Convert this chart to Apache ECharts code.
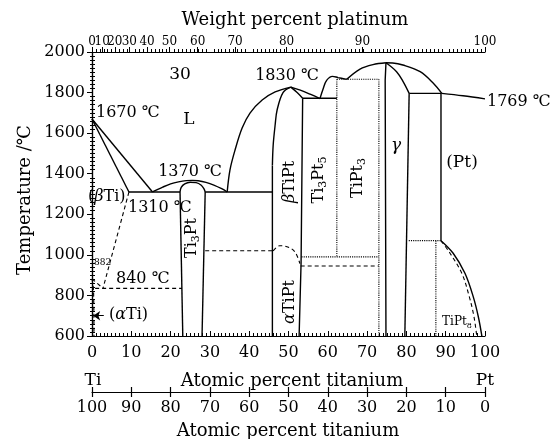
<!DOCTYPE html>
<html>
<head>
<meta charset="utf-8">
<script src="https://cdn.jsdelivr.net/npm/echarts@6/dist/echarts.min.js"></script>
<style>
  html, body { margin: 0; background: #fff; }
  #chart { width: 560px; height: 439px; }
</style>
</head>
<body>
<div id="chart"></div>
<script>
const FONT = '"DejaVu Serif", "Liberation Serif", serif'

// axes
const tempMin = 600
const tempMax = 2000
const tempStep = 200
const wtLabels = [0, 10, 20, 30, 40, 50, 60, 70, 80, 90, 100]
const wtPositions = [0, 2.6, 5.8, 9.5, 14.0, 19.7, 26.9, 36.4, 49.5, 68.8, 100]

// phase boundaries, [at.% (bottom axis), temperature °C]
const liquidusTi = [[0, 1670], [15.4, 1310]]
const solidusBetaTi = [[0, 1670], [9.4, 1310]]
const eutecticLeft = [[9.4, 1310], [22.4, 1310]]
const liquidusTi3Pt = [[15.4, 1310], [18, 1334], [20, 1350], [22, 1360], [24, 1366], [25.5, 1367], [27, 1365], [29, 1357], [31, 1344], [33, 1326], [34.4, 1310]]
const ti3PtCap = [[22.4, 1310], [22.7, 1333], [23.6, 1350], [25, 1358], [26.5, 1356], [27.8, 1343], [28.5, 1325], [28.8, 1310]]
const ti3PtLeft = [[22.4, 1310], [23.1, 600]]
const ti3PtRight = [[28.8, 1310], [28.0, 600]]
const eutecticRight = [[28.8, 1310], [45.9, 1310]]
const liquidusTiPtLeft = [[34.4, 1310], [35.1, 1418], [36.4, 1517], [38.2, 1625], [40.2, 1699], [43.3, 1763], [46.6, 1803], [50.6, 1827]]
const solidusTiPtLeft = [[50.6, 1827], [48.6, 1800], [47.1, 1714], [46.6, 1640], [46.1, 1540], [45.9, 1440]]
const tiPtLeftEdge = [[45.9, 1440], [45.9, 600]]
const liquidusTiPtRight = [[50.6, 1827], [53, 1812], [55.5, 1792], [58, 1770]]
const solidusTiPtRight = [[50.6, 1827], [52.2, 1800], [53.6, 1772]]
const tiPtRightEdge = [[53.6, 1772], [53.2, 960], [52.7, 600]]
const ti3Pt5Top = [[53.6, 1772], [62.3, 1772]]
const liquidusBump = [[58, 1770], [58.8, 1818], [59.7, 1860], [61.2, 1880], [62.6, 1874], [64.8, 1865]]
const liquidusGammaLeft = [[64.8, 1865], [68.2, 1916], [71.5, 1938], [74.8, 1947]]
const tiPt3Left = [[62.3, 1866], [62.3, 990]]
const tiPt3Top = [[62.3, 1866], [73.0, 1866]]
const tiPt3Right = [[73.0, 1866], [73.0, 600]]
const ordering990 = [[53.3, 990], [73.0, 990]]
const ordering945 = [[53.1, 945], [73.0, 945]]
const gammaLeft = [[74.8, 1947], [74.6, 1860], [74.8, 600]]
const liquidusGammaRight = [[74.8, 1947], [76.5, 1946], [79.1, 1936], [83.5, 1903], [86.8, 1847], [89.0, 1796]]
const liquidusPt = [[89.0, 1796], [94.4, 1784], [100, 1769]]
const solidusGammaRight = [[74.8, 1947], [77.5, 1903], [79.2, 1853], [80.7, 1796]]
const peritecticPt = [[80.7, 1796], [89.0, 1796]]
const gammaRight = [[80.7, 1796], [79.6, 600]]
const ptLeft = [[88.8, 1796], [88.8, 1070]]
const tiPt8Top = [[80.6, 1070], [88.8, 1070]]
const tiPt8Left = [[87.5, 1070], [87.5, 600]]
const tiPt8Outer = [[88.8, 1070], [91.9, 1008], [94.9, 909], [97.0, 794], [98.3, 695], [99.2, 600]]
const tiPt8Inner = [[88.8, 1070], [91.1, 1008], [94.1, 909], [96.0, 794], [97.2, 695], [97.9, 600]]
const tiPtMartLine = [[28.8, 1020], [46.1, 1020]]
const tiPtMartDome = [[46.1, 1020], [47.8, 1045], [50.0, 1038], [51.7, 1013], [52.9, 957]]
const betaSolvus = [[9.4, 1310], [2.8, 835]]
const eutectoid = [[0.8, 835], [22.9, 835]]
const alphaBeta = [[0, 882], [2.8, 835]]
const alphaSolvus = [[0, 882], [0.4, 820], [0.5, 600]]
const alphaArrow = [[3.0, 700], [0.3, 700]]

function boundary(data, kind, smooth) {
  return {
    type: 'line',
    data: data,
    symbol: 'none',
    smooth: smooth ? 0.35 : false,
    silent: true,
    clip: false,
    lineStyle: {
      color: '#000',
      width: kind === 'solid' ? 1.4 : 1.1,
      type: kind === 'dashed' ? [4, 3] : kind
    }
  }
}

const rich = {
  n: { fontSize: 16, fontFamily: FONT, fill: '#000' },
  i: { fontSize: 16, fontFamily: FONT, fontStyle: 'italic', fill: '#000' },
  s: { fontSize: 11, fontFamily: FONT, fill: '#000', padding: [9, 0, 0, 0] },
  ss: { fontSize: 8, fontFamily: FONT, fill: '#000', padding: [8, 0, 0, 0] },
  m: { fontSize: 12, fontFamily: FONT, fill: '#000' }
}

function label(x, y, text, size, opts) {
  opts = opts || {}
  return {
    type: 'text',
    x: x,
    y: y,
    rotation: opts.rotate ? Math.PI / 2 : 0,
    silent: true,
    style: {
      text: text,
      rich: rich,
      fill: '#000',
      font: (opts.italic ? 'italic ' : '') + size + 'px ' + FONT,
      align: opts.align || 'center',
      verticalAlign: 'middle'
    }
  }
}

const chart = echarts.init(document.getElementById('chart'))

const hidden = { show: false }
const plain = v => String(v)
const wtName = v => String(wtLabels[wtPositions.indexOf(v)])

// top weight-percent labels: the first one sits on its own axis so none get dropped for overlap
function wtAxis(values, withLine) {
  return {
    type: 'value', position: 'top', min: 0, max: 100,
    axisLine: withLine ? { lineStyle: { color: '#000', width: 1.2 } } : hidden,
    axisTick: { length: 5, customValues: values, lineStyle: { color: '#000' } },
    axisLabel: {
      fontSize: 12, color: '#000', margin: 4, fontFamily: FONT,
      showMinLabel: withLine ? false : true, showMaxLabel: true,
      customValues: values,
      formatter: wtName
    },
    splitLine: hidden
  }
}

chart.setOption({
  animation: false,
  textStyle: { fontFamily: FONT, color: '#000' },
  grid: { left: 92, right: 75, top: 52, bottom: 103 },
  xAxis: [
    {
      type: 'value', position: 'bottom', min: 0, max: 100, interval: 10,
      axisLine: { lineStyle: { color: '#000', width: 1.2 } },
      axisTick: { inside: true, length: 5, lineStyle: { color: '#000' } },
      minorTick: { show: true, splitNumber: 10, length: 3, lineStyle: { color: '#000' } },
      axisLabel: { fontSize: 16, color: '#000', margin: 9, fontFamily: FONT, formatter: plain },
      splitLine: hidden
    },
    wtAxis(wtPositions, true),
    wtAxis(wtPositions.slice(0, 1), false),
    {
      type: 'value', position: 'top', min: 0, max: 100, interval: 10,
      axisLine: hidden,
      axisTick: { show: false },
      minorTick: { show: true, splitNumber: 10, length: 3, lineStyle: { color: '#000' } },
      axisLabel: hidden,
      splitLine: hidden
    },
    {
      type: 'value', position: 'bottom', offset: 56, min: 0, max: 100, interval: 10, inverse: true,
      axisLine: { lineStyle: { color: '#000', width: 1.2 } },
      axisTick: { length: 5, lineStyle: { color: '#000', width: 1.2 } },
      axisLabel: { fontSize: 16, color: '#000', margin: 8, fontFamily: FONT, formatter: plain },
      splitLine: hidden
    },
    {
      type: 'value', position: 'bottom', offset: 56, min: 0, max: 100, interval: 10, inverse: true,
      axisLine: hidden,
      axisTick: { inside: true, length: 5, lineStyle: { color: '#000', width: 1.2 } },
      axisLabel: hidden,
      splitLine: hidden
    }
  ],
  yAxis: [
    {
      type: 'value', position: 'left', min: tempMin, max: tempMax, interval: tempStep,
      axisLine: { show: true, lineStyle: { color: '#000', width: 1.2 } },
      axisTick: { show: true, length: 4, lineStyle: { color: '#000' } },
      axisLabel: { fontSize: 16, color: '#000', margin: 7, fontFamily: FONT, formatter: plain },
      splitLine: hidden
    },
    {
      type: 'value', position: 'left', min: tempMin, max: tempMax, interval: tempStep,
      axisLine: hidden,
      axisTick: { show: false, inside: true },
      minorTick: { show: true, splitNumber: 10, length: 3, lineStyle: { color: '#000' } },
      axisLabel: hidden,
      splitLine: hidden
    },
    {
      type: 'value', position: 'right', min: tempMin, max: tempMax, interval: tempStep,
      axisLine: { show: true, lineStyle: { color: '#000', width: 1.2 } },
      axisTick: { show: true, inside: true, length: 5, lineStyle: { color: '#000' } },
      minorTick: { show: true, splitNumber: 10, length: 2, lineStyle: { color: '#000' } },
      axisLabel: hidden,
      splitLine: hidden
    }
  ],
  series: [
    boundary(liquidusTi, 'solid'),
    boundary(solidusBetaTi, 'solid'),
    boundary(eutecticLeft, 'solid'),
    boundary(liquidusTi3Pt, 'solid', true),
    boundary(ti3PtCap, 'solid', true),
    boundary(ti3PtLeft, 'solid'),
    boundary(ti3PtRight, 'solid'),
    boundary(eutecticRight, 'solid'),
    boundary(liquidusTiPtLeft, 'solid', true),
    boundary(solidusTiPtLeft, 'solid', true),
    boundary(tiPtLeftEdge, 'solid'),
    boundary(liquidusTiPtRight, 'solid', true),
    boundary(solidusTiPtRight, 'solid', true),
    boundary(tiPtRightEdge, 'solid'),
    boundary(ti3Pt5Top, 'solid'),
    boundary(liquidusBump, 'solid', true),
    boundary(liquidusGammaLeft, 'solid', true),
    boundary(tiPt3Left, 'dotted'),
    boundary(tiPt3Top, 'dotted'),
    boundary(tiPt3Right, 'dotted'),
    boundary(ordering990, 'dotted'),
    boundary(ordering945, 'dashed'),
    boundary(gammaLeft, 'solid'),
    boundary(liquidusGammaRight, 'solid', true),
    boundary(liquidusPt, 'solid', true),
    boundary(solidusGammaRight, 'solid', true),
    boundary(peritecticPt, 'solid'),
    boundary(gammaRight, 'solid'),
    boundary(ptLeft, 'solid'),
    boundary(tiPt8Top, 'dotted'),
    boundary(tiPt8Left, 'dotted'),
    boundary(tiPt8Outer, 'solid', true),
    boundary(tiPt8Inner, 'dashed', true),
    boundary(tiPtMartLine, 'dashed'),
    boundary(tiPtMartDome, 'dashed', true),
    boundary(betaSolvus, 'dashed'),
    boundary(eutectoid, 'dashed'),
    boundary(alphaBeta, 'dashed'),
    boundary(alphaSolvus, 'dashed', true),
    Object.assign(boundary([], 'solid'), {
      markLine: {
        silent: true,
        symbol: ['none', 'arrow'],
        symbolSize: 7,
        label: { show: false },
        lineStyle: { color: '#000', type: 'solid', width: 1 },
        data: [[{ coord: alphaArrow[0] }, { coord: alphaArrow[1] }]]
      }
    })
  ],
  graphic: [
    label(295, 20, 'Weight percent platinum', 18),
    label(25, 200, 'Temperature /℃', 18, { rotate: true }),
    label(93, 381, 'Ti', 17),
    label(292, 381, 'Atomic percent titanium', 18),
    label(485, 381, 'Pt', 17),
    label(288, 431, 'Atomic percent titanium', 18),
    label(180, 75, '30', 17),
    label(189, 120, 'L', 17),
    label(96, 113, '1670 ℃', 16, { align: 'left' }),
    label(190, 172, '1370 ℃', 16),
    label(88, 197, '{n|(}{i|β}{n|Ti)}', 14, { align: 'left' }),
    label(128, 208, '1310 ℃', 16, { align: 'left' }),
    label(94, 263, '882', 9, { align: 'left' }),
    label(116, 279, '840 ℃', 16, { align: 'left' }),
    label(109, 315, '{n|(}{i|α}{n|Ti)}', 17, { align: 'left' }),
    label(192, 238, '{n|Ti}{s|3}{n|Pt}', 16, { rotate: true }),
    label(290, 182, '{i|β}{n|TiPt}', 16, { rotate: true }),
    label(319, 180, '{n|Ti}{s|3}{n|Pt}{s|5}', 16, { rotate: true }),
    label(358, 178, '{n|TiPt}{s|3}', 16, { rotate: true }),
    label(290, 302, '{i|α}{n|TiPt}', 16, { rotate: true }),
    label(396, 146, 'γ', 17, { italic: true }),
    label(462, 163, '(Pt)', 17),
    label(287, 76, '1830 ℃', 16),
    label(487, 102, '1769 ℃', 16, { align: 'left' }),
    label(457, 322, '{m|TiPt}{ss|8}', 12)
  ]
})
</script>
</body>
</html>
